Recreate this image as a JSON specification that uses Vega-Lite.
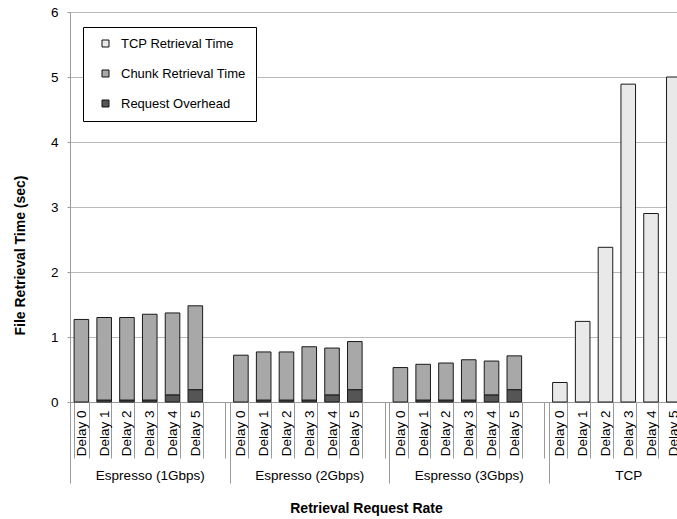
{
  "$schema": "https://vega.github.io/schema/vega-lite/v6.json",
  "autosize": {"type": "none"},
  "width": 607,
  "height": 390,
  "padding": {"left": 70, "top": 12, "right": 0, "bottom": 117},
  "background": "white",
  "config": {
    "font": "Liberation Sans",
    "view": {"stroke": null},
    "axis": {"domainColor": "#9a9a9a", "tickColor": "#9a9a9a", "gridColor": "#bababa", "labelColor": "#000000", "titleColor": "#000000"}
  },
  "layer": [
    {
      "data": {"values": [
        {"slot": "Espresso (1Gbps)|Delay 0", "component": "Chunk Retrieval Time", "value": 1.27},
        {"slot": "Espresso (1Gbps)|Delay 1", "component": "Request Overhead", "value": 0.03},
        {"slot": "Espresso (1Gbps)|Delay 1", "component": "Chunk Retrieval Time", "value": 1.27},
        {"slot": "Espresso (1Gbps)|Delay 2", "component": "Request Overhead", "value": 0.03},
        {"slot": "Espresso (1Gbps)|Delay 2", "component": "Chunk Retrieval Time", "value": 1.27},
        {"slot": "Espresso (1Gbps)|Delay 3", "component": "Request Overhead", "value": 0.03},
        {"slot": "Espresso (1Gbps)|Delay 3", "component": "Chunk Retrieval Time", "value": 1.32},
        {"slot": "Espresso (1Gbps)|Delay 4", "component": "Request Overhead", "value": 0.11},
        {"slot": "Espresso (1Gbps)|Delay 4", "component": "Chunk Retrieval Time", "value": 1.26},
        {"slot": "Espresso (1Gbps)|Delay 5", "component": "Request Overhead", "value": 0.19},
        {"slot": "Espresso (1Gbps)|Delay 5", "component": "Chunk Retrieval Time", "value": 1.29},
        {"slot": "Espresso (2Gbps)|Delay 0", "component": "Chunk Retrieval Time", "value": 0.72},
        {"slot": "Espresso (2Gbps)|Delay 1", "component": "Request Overhead", "value": 0.03},
        {"slot": "Espresso (2Gbps)|Delay 1", "component": "Chunk Retrieval Time", "value": 0.74},
        {"slot": "Espresso (2Gbps)|Delay 2", "component": "Request Overhead", "value": 0.03},
        {"slot": "Espresso (2Gbps)|Delay 2", "component": "Chunk Retrieval Time", "value": 0.74},
        {"slot": "Espresso (2Gbps)|Delay 3", "component": "Request Overhead", "value": 0.03},
        {"slot": "Espresso (2Gbps)|Delay 3", "component": "Chunk Retrieval Time", "value": 0.82},
        {"slot": "Espresso (2Gbps)|Delay 4", "component": "Request Overhead", "value": 0.11},
        {"slot": "Espresso (2Gbps)|Delay 4", "component": "Chunk Retrieval Time", "value": 0.72},
        {"slot": "Espresso (2Gbps)|Delay 5", "component": "Request Overhead", "value": 0.19},
        {"slot": "Espresso (2Gbps)|Delay 5", "component": "Chunk Retrieval Time", "value": 0.74},
        {"slot": "Espresso (3Gbps)|Delay 0", "component": "Chunk Retrieval Time", "value": 0.53},
        {"slot": "Espresso (3Gbps)|Delay 1", "component": "Request Overhead", "value": 0.03},
        {"slot": "Espresso (3Gbps)|Delay 1", "component": "Chunk Retrieval Time", "value": 0.55},
        {"slot": "Espresso (3Gbps)|Delay 2", "component": "Request Overhead", "value": 0.03},
        {"slot": "Espresso (3Gbps)|Delay 2", "component": "Chunk Retrieval Time", "value": 0.57},
        {"slot": "Espresso (3Gbps)|Delay 3", "component": "Request Overhead", "value": 0.03},
        {"slot": "Espresso (3Gbps)|Delay 3", "component": "Chunk Retrieval Time", "value": 0.62},
        {"slot": "Espresso (3Gbps)|Delay 4", "component": "Request Overhead", "value": 0.11},
        {"slot": "Espresso (3Gbps)|Delay 4", "component": "Chunk Retrieval Time", "value": 0.52},
        {"slot": "Espresso (3Gbps)|Delay 5", "component": "Request Overhead", "value": 0.19},
        {"slot": "Espresso (3Gbps)|Delay 5", "component": "Chunk Retrieval Time", "value": 0.52},
        {"slot": "TCP|Delay 0", "component": "TCP Retrieval Time", "value": 0.30},
        {"slot": "TCP|Delay 1", "component": "TCP Retrieval Time", "value": 1.24},
        {"slot": "TCP|Delay 2", "component": "TCP Retrieval Time", "value": 2.38},
        {"slot": "TCP|Delay 3", "component": "TCP Retrieval Time", "value": 4.89},
        {"slot": "TCP|Delay 4", "component": "TCP Retrieval Time", "value": 2.90},
        {"slot": "TCP|Delay 5", "component": "TCP Retrieval Time", "value": 5.00}
      ]},
      "mark": {"type": "bar", "stroke": "#1a1a1a", "strokeWidth": 1},
      "encoding": {
        "x": {
          "field": "slot", "type": "nominal",
          "scale": {
            "domain": [
              "Espresso (1Gbps)|Delay 0", "Espresso (1Gbps)|Delay 1", "Espresso (1Gbps)|Delay 2", "Espresso (1Gbps)|Delay 3", "Espresso (1Gbps)|Delay 4", "Espresso (1Gbps)|Delay 5", "Espresso (1Gbps)|",
              "Espresso (2Gbps)|Delay 0", "Espresso (2Gbps)|Delay 1", "Espresso (2Gbps)|Delay 2", "Espresso (2Gbps)|Delay 3", "Espresso (2Gbps)|Delay 4", "Espresso (2Gbps)|Delay 5", "Espresso (2Gbps)|",
              "Espresso (3Gbps)|Delay 0", "Espresso (3Gbps)|Delay 1", "Espresso (3Gbps)|Delay 2", "Espresso (3Gbps)|Delay 3", "Espresso (3Gbps)|Delay 4", "Espresso (3Gbps)|Delay 5", "Espresso (3Gbps)|",
              "TCP|Delay 0", "TCP|Delay 1", "TCP|Delay 2", "TCP|Delay 3", "TCP|Delay 4", "TCP|Delay 5", "TCP|"
            ],
            "range": [0, 638],
            "paddingInner": 0.36,
            "paddingOuter": 0.18
          },
          "axis": {
            "orient": "bottom",
            "title": null,
            "labelExpr": "split(datum.value, '|')[1]",
            "labelAngle": -90,
            "labelFontSize": 13.5,
            "labelPadding": -48,
            "tickBand": "extent",
            "tickSize": 56,
            "labelOverlap": false,
            "labelBound": false
          }
        },
        "y": {
          "field": "value", "type": "quantitative", "stack": "zero",
          "scale": {"domain": [0, 6], "nice": false},
          "axis": {
            "title": "File Retrieval Time (sec)",
            "titleFontSize": 14,
            "titleFontWeight": "bold",
            "titleX": -50,
            "titleY": 243,
            "titleAlign": "center",
            "titleBaseline": "middle",
            "values": [0, 1, 2, 3, 4, 5, 6],
            "labelFontSize": 13.5,
            "labelPadding": 9,
            "tickSize": 3,
            "grid": true
          }
        },
        "color": {
          "field": "component", "type": "nominal",
          "scale": {
            "domain": ["TCP Retrieval Time", "Chunk Retrieval Time", "Request Overhead"],
            "range": ["#e9e9e9", "#a8a8a8", "#555555"]
          },
          "legend": {
            "title": null,
            "orient": "none",
            "legendX": 13,
            "legendY": 15,
            "strokeColor": "#000000",
            "fillColor": "#ffffff",
            "padding": 10,
            "symbolOffset": 6,
            "symbolType": "square",
            "symbolSize": 49,
            "symbolStrokeColor": "#111111",
            "symbolStrokeWidth": 1,
            "labelFontSize": 13,
            "labelOffset": 9,
            "rowPadding": 16,
            "labelColor": "#000000"
          }
        },
        "order": {"field": "component", "sort": "descending"}
      }
    },
    {
      "data": {"values": [
        {"group": "Espresso (1Gbps)"},
        {"group": "Espresso (2Gbps)"},
        {"group": "Espresso (3Gbps)"},
        {"group": "TCP"}
      ]},
      "mark": {"type": "bar", "opacity": 0},
      "encoding": {
        "x": {
          "field": "group", "type": "nominal",
          "scale": {
            "domain": ["Espresso (1Gbps)", "Espresso (2Gbps)", "Espresso (3Gbps)", "TCP"],
            "range": [0, 638],
            "paddingInner": 0,
            "paddingOuter": 0
          },
          "axis": {
            "orient": "bottom",
            "domain": false,
            "labelAngle": 0,
            "labelFontSize": 13.5,
            "labelPadding": -15,
            "labelBaseline": "top",
            "tickBand": "extent",
            "tickSize": 81,
            "labelBound": false,
            "title": "Retrieval Request Rate",
            "titleFontSize": 14,
            "titleFontWeight": "bold",
            "titleX": 296,
            "titleY": 106,
            "titleAlign": "center",
            "titleBaseline": "middle"
          }
        }
      }
    }
  ],
  "resolve": {"scale": {"x": "independent"}, "axis": {"x": "independent"}}
}
